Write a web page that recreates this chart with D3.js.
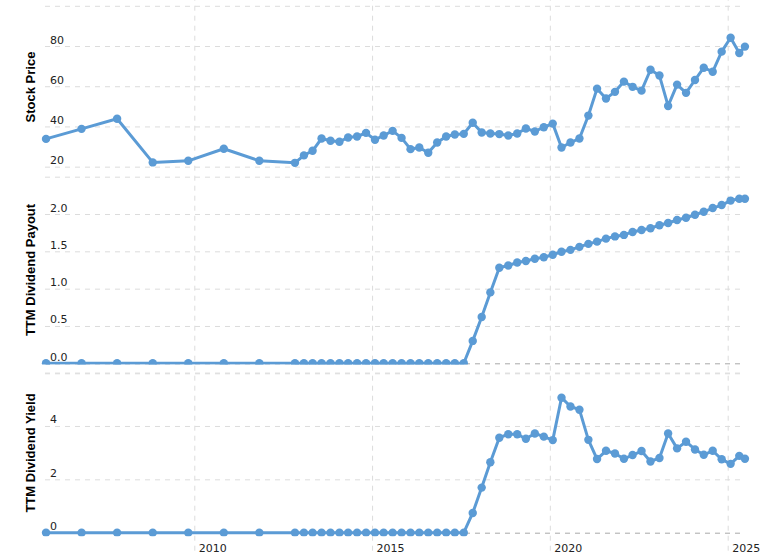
<!DOCTYPE html>
<html>
<head>
<meta charset="utf-8">
<script src="https://cdn.jsdelivr.net/npm/d3@7"></script>
<style>
  html, body { margin: 0; padding: 0; background: #fff; }
  svg { display: block; }
</style>
</head>
<body>
<svg id="chart" width="776" height="555"></svg>
<script>
// ---------------- data ----------------
const dates = [
  "2005-10-31","2006-10-31","2007-10-31","2008-10-31","2009-10-31","2010-10-31","2011-10-31",
  "2012-10-31","2013-01-31","2013-04-30","2013-07-31","2013-10-31","2014-01-31","2014-04-30","2014-07-31",
  "2014-10-31","2015-01-31","2015-04-30","2015-07-31","2015-10-31","2016-01-31","2016-04-30","2016-07-31",
  "2016-10-31","2017-01-31","2017-04-30","2017-07-31","2017-10-31","2018-01-31","2018-04-30","2018-07-31",
  "2018-10-31","2019-01-31","2019-04-30","2019-07-31","2019-10-31","2020-01-31","2020-04-30","2020-07-31",
  "2020-10-31","2021-01-31","2021-04-30","2021-07-31","2021-10-31","2022-01-31","2022-04-30","2022-07-31",
  "2022-10-31","2023-01-31","2023-04-30","2023-07-31","2023-10-31","2024-01-31","2024-04-30","2024-07-31",
  "2024-10-31","2025-01-31","2025-04-30","2025-06-27"
];
const stockPrice = [
  33.8, 38.8, 43.8, 22.1, 22.9, 28.9, 22.9,
  21.9, 25.6, 27.9, 34.0, 32.9, 32.4, 34.5, 35.0,
  36.8, 33.4, 35.5, 37.8, 34.3, 28.7, 29.5, 26.9,
  32.0, 35.0, 36.0, 36.3, 41.8, 37.0, 36.5, 36.2,
  35.5, 36.5, 39.0, 37.5, 39.6, 41.4, 29.5, 32.0,
  34.0, 45.4, 58.8, 53.9, 57.2, 62.3, 59.7, 57.8,
  68.2, 65.3, 50.2, 60.8, 56.7, 63.1, 69.2, 67.2,
  77.2, 84.1, 76.5, 79.7
];
const dividendPayout = [
  0, 0, 0, 0, 0, 0, 0,
  0, 0, 0, 0, 0, 0, 0, 0,
  0, 0, 0, 0, 0, 0, 0, 0,
  0, 0, 0, 0, 0.30, 0.62, 0.95, 1.28,
  1.31, 1.35, 1.37, 1.40, 1.42, 1.455, 1.495, 1.52,
  1.56, 1.60, 1.63, 1.67, 1.70, 1.72, 1.76, 1.785,
  1.81, 1.85, 1.88, 1.92, 1.95, 1.99, 2.03, 2.08,
  2.12, 2.18, 2.205, 2.205
];
const dividendYield = [
  0, 0, 0, 0, 0, 0, 0,
  0, 0, 0, 0, 0, 0, 0, 0,
  0, 0, 0, 0, 0, 0, 0, 0,
  0, 0, 0, 0, 0.74, 1.69, 2.64, 3.56,
  3.69, 3.69, 3.52, 3.72, 3.60, 3.47, 5.06, 4.73,
  4.61, 3.48, 2.76, 3.07, 2.97, 2.77, 2.91, 3.06,
  2.67, 2.80, 3.72, 3.16, 3.41, 3.12, 2.92, 3.07,
  2.75, 2.58, 2.88, 2.77
];
const priceTicks = [20, 40, 60, 80];
const payoutTicks = [0.0, 0.5, 1.0, 1.5, 2.0];
const yieldTicks = [0, 2, 4];
const yearTicks = ["2010-01-01", "2015-01-01", "2020-01-01", "2025-01-01"];
const panelTitles = ["Stock Price", "TTM Dividend Payout", "TTM Dividend Yield"];

// ---------------- layout ----------------
const parse = d3.utcParse("%Y-%m-%d");
const X0 = 45, X1 = 742;
const color = "#5b9bd5";
const svg = d3.select("#chart");

const x = d3.scaleUtc()
  .domain([parse("2010-01-01"), parse("2025-01-01")])
  .range([194.3, 727.7]);

const panels = [
  { values: stockPrice, ticks: priceTicks, fmt: d3.format("d"),
    y: d3.scaleLinear().domain([15, 100]).range([176.7, 5.8]),
    extra: [100, 15], clipBottom: 177, titleY: 87 },
  { values: dividendPayout, ticks: payoutTicks, fmt: d3.format(".1f"),
    y: d3.scaleLinear().domain([-0.134, 2.5]).range([373.3, 176.7]),
    extra: [-0.134], clipBottom: 364.6, titleY: 270 },
  { values: dividendYield, ticks: yieldTicks, fmt: d3.format("d"),
    y: d3.scaleLinear().domain([0, 6]).range([532.7, 372.6]),
    extra: [6], clipBottom: 536.2, titleY: 453 }
];

const pts = dates.map(parse);

// vertical grid (x axis)
const xAxis = d3.axisBottom(x)
  .tickValues(yearTicks.map(parse))
  .tickFormat(d3.utcFormat("%Y"))
  .tickSize(0);
const gx = svg.append("g").attr("transform", "translate(0,532.7)").call(xAxis);
gx.select(".domain").remove();
gx.selectAll(".tick line")
  .attr("y1", 18).attr("y2", -533)
  .attr("stroke", "#dcdcdc").attr("stroke-dasharray", "5,5");
gx.selectAll(".tick text")
  .attr("x", 4).attr("y", 19).attr("dy", 0)
  .attr("text-anchor", "start")
  .attr("fill", "#222")
  .style("font-family", "'DejaVu Sans', Verdana, sans-serif")
  .style("font-size", "11px");

panels.forEach((p, i) => {
  // horizontal grid
  const gridAxis = d3.axisLeft(p.y)
    .tickValues(p.ticks.concat(p.extra))
    .tickSize(-(X1 - X0))
    .tickFormat("");
  const gg = svg.append("g").attr("transform", `translate(${X0},0)`).call(gridAxis);
  gg.select(".domain").remove();
  gg.selectAll(".tick line")
    .attr("stroke", d => d === 0 ? "#a8a8a8" : "#dcdcdc")
    .attr("stroke-dasharray", "5,5");

  // series
  const clipId = "clip" + i;
  svg.append("clipPath").attr("id", clipId)
    .append("rect")
    .attr("x", 0).attr("y", 0)
    .attr("width", 776).attr("height", p.clipBottom);
  const gs = svg.append("g").attr("clip-path", `url(#${clipId})`);
  const line = d3.line()
    .x((d, j) => x(pts[j]))
    .y(d => p.y(d));
  gs.append("path")
    .datum(p.values)
    .attr("d", line)
    .attr("fill", "none")
    .attr("stroke", color)
    .attr("stroke-width", 3)
    .attr("stroke-linejoin", "round");
  gs.selectAll("circle")
    .data(p.values)
    .join("circle")
    .attr("cx", (d, j) => x(pts[j]))
    .attr("cy", d => p.y(d))
    .attr("r", 4.2)
    .attr("fill", color);

  // tick labels (on top)
  const labelAxis = d3.axisLeft(p.y)
    .tickValues(p.ticks)
    .tickSize(0)
    .tickFormat(p.fmt);
  const gl = svg.append("g").attr("transform", `translate(${X0},0)`).call(labelAxis);
  gl.select(".domain").remove();
  gl.selectAll(".tick line").remove();
  gl.selectAll(".tick text")
    .attr("x", 5).attr("dy", -3)
    .attr("text-anchor", "start")
    .attr("fill", "#222")
    .style("font-family", "'DejaVu Sans', Verdana, sans-serif")
    .style("font-size", "11px");

  // panel title
  svg.append("text")
    .attr("transform", `translate(35,${p.titleY}) rotate(-90)`)
    .attr("text-anchor", "middle")
    .attr("fill", "#000")
    .style("font-family", "'Liberation Sans', Arial, sans-serif")
    .style("font-weight", "bold")
    .style("font-size", "13px")
    .text(panelTitles[i]);
});
</script>
</body>
</html>
